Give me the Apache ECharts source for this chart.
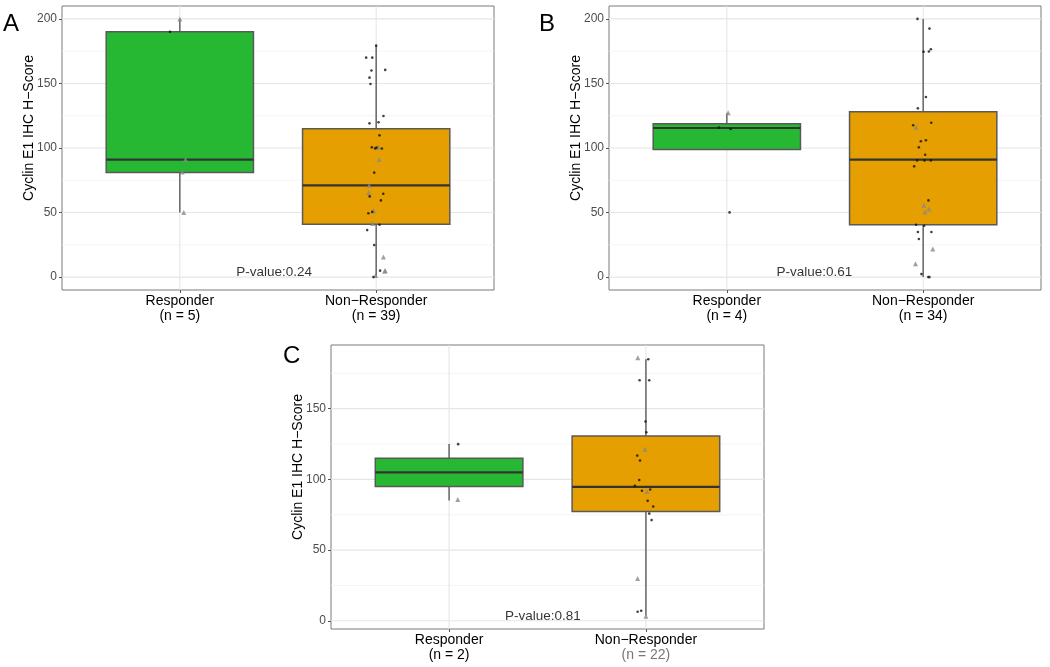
<!DOCTYPE html>
<html>
<head>
<meta charset="utf-8">
<script src="https://cdn.jsdelivr.net/npm/echarts@6/dist/echarts.min.js"></script>
<style>html,body{margin:0;padding:0;background:#fff}#c{width:1050px;height:667px}</style>
</head>
<body>
<div id="c"></div>
<script>
// ---------- DATA ----------
const categories = ['Responder', 'Non\u2212Responder'];
const panelLetters = ['A', 'B', 'C'];
const yTitle = 'Cyclin E1 IHC H\u2212Score';
const nA = [5, 39];
const nB = [4, 34];
const nC = [2, 22];
const pValues = ['0.24', '0.61', '0.81'];
const yTicksAB = [0, 50, 100, 150, 200];
const yTicksC = [0, 50, 100, 150];
const yMinorAB = [25, 75, 125, 175];
const yMinorC = [25, 75, 125, 175];

// box stats: [category position, lower whisker, Q1, median, Q3, upper whisker]
const boxA = [[1, 50, 81, 91, 190, 200], [2, 0, 41, 71, 115, 179.3]];
const boxB = [[1, 98.75, 98.75, 115.5, 118.75, 127], [2, 0, 40.5, 91, 128, 200]];
const boxC = [[1, 85, 95, 105, 115, 125], [2, 3.5, 77.3, 94.7, 130.7, 185]];

// jittered points [x, H-score]
const dotsA = [[0.95, 190],
  [2.0, 179.3], [1.949, 170], [1.98, 170], [2.046, 160.5], [1.976, 160], [1.966, 154.5], [1.971, 149.6],
  [2.037, 124.8], [1.966, 119.1], [2.012, 119.9], [2.017, 109.8], [1.978, 100.5], [1.995, 99.7],
  [2.002, 100.3], [2.029, 99.6], [1.99, 80.9], [2.036, 64.6], [1.967, 62.5], [2.024, 59.4],
  [1.98, 50.5], [1.96, 49.4], [2.017, 40.6], [1.954, 36.4], [1.99, 24.8], [2.02, 5], [1.986, 0]];
const trisA = [[1.0, 200], [1.029, 91], [1.012, 81.4], [1.02, 50],
  [2.012, 100.5], [2.015, 91], [1.964, 71], [1.962, 65.6], [1.987, 51.4], [1.982, 41.6],
  [2.037, 15.5], [2.046, 5.2], [2.043, 4.6], [1.997, 1.3]];

const dotsB = [[0.96, 115.8], [1.019, 114.7], [1.014, 50.1],
  [1.971, 200], [2.032, 192.5], [2.002, 174.6], [2.029, 174.8], [2.039, 176.5], [2.014, 139.5],
  [1.973, 130.7], [2.041, 119.6], [1.949, 117.6], [1.988, 105.2], [2.014, 106], [1.978, 100.5],
  [2.010, 94.8], [1.969, 90.4], [2.007, 90.4], [2.039, 90.4], [1.954, 85.8], [2.027, 59.4],
  [1.964, 40.5], [2.005, 39.8], [1.973, 34.9], [2.042, 34.9], [1.978, 29.5], [1.991, 2.3],
  [2.026, 0], [2.032, 0]];
const trisB = [[1.007, 127.4],
  [1.964, 116], [2.004, 55.6], [2.029, 52.7], [2.009, 50.4], [2.049, 21.7], [1.961, 10.3]];

const dotsC = [[1.046, 124.9],
  [2.012, 184.9], [1.968, 170.1], [2.017, 170.1], [1.998, 140.9], [2.002, 133.3], [1.956, 116.8],
  [1.970, 113.3], [1.966, 99.6], [1.944, 95.4], [1.980, 91.9], [2.022, 92.8], [2.009, 84.8],
  [2.037, 80.8], [2.017, 75.8], [2.029, 71.2], [1.958, 6.4], [1.976, 7.1]];
const trisC = [[1.044, 85.7],
  [1.959, 185.9], [1.995, 121.3], [2.005, 91.4], [1.958, 29.9], [2.0, 3.3]];

// ---------- CHART ----------
const FONT = 'Liberation Sans, Arial, Helvetica, sans-serif';
const boxColors = ['#27b833', '#e69f00'];
const X0 = 0.4, X1 = 2.6;

const panels = [
  {grid: {left: 62, top: 6, width: 432, height: 284}, ymin: -10, ymax: 210, ticks: yTicksAB, minor: yMinorAB,
   box: boxA, dots: dotsA, tris: trisA, n: nA, p: pValues[0], pPos: [1.48, 4], grayN: false},
  {grid: {left: 609, top: 6, width: 432, height: 284}, ymin: -10, ymax: 210, ticks: yTicksAB, minor: yMinorAB,
   box: boxB, dots: dotsB, tris: trisB, n: nB, p: pValues[1], pPos: [1.446, 4], grayN: false},
  {grid: {left: 331, top: 345, width: 433, height: 284}, ymin: -5.8, ymax: 195, ticks: yTicksC, minor: yMinorC,
   box: boxC, dots: dotsC, tris: trisC, n: nC, p: pValues[2], pPos: [1.476, 3], grayN: true}
];

const option = {
  animation: false,
  backgroundColor: '#fff',
  textStyle: {fontFamily: FONT},
  grid: [], xAxis: [], yAxis: [], series: [],
  graphic: []
};

panels.forEach((pn, i) => {
  option.grid.push(Object.assign({show: true, borderColor: '#7a7a7a', borderWidth: 1, backgroundColor: '#fff'}, pn.grid));
  option.xAxis.push({
    type: 'value', gridIndex: i, min: X0, max: X1, position: 'bottom',
    axisLine: {show: false, onZero: false}, splitLine: {show: false},
    axisTick: {show: true, customValues: [1, 2], length: 3, lineStyle: {color: '#555'}},
    axisLabel: {
      customValues: [1, 2], margin: 4, lineHeight: 15, fontSize: 14, color: '#000', fontFamily: FONT,
      formatter: v => {
        const k = Math.round(v) - 1;
        const style = (pn.grayN && k === 1) ? 'g' : 'b';
        return '{b|' + categories[k] + '}\n{' + style + '|(n = ' + pn.n[k] + ')}';
      },
      rich: {
        b: {fontSize: 14, color: '#000', lineHeight: 15, fontFamily: FONT},
        g: {fontSize: 14, color: '#777', lineHeight: 15, fontFamily: FONT}
      }
    }
  });
  option.yAxis.push({
    type: 'value', gridIndex: i, min: pn.ymin, max: pn.ymax, position: 'left',
    axisLine: {show: false, onZero: false}, splitLine: {show: false},
    axisTick: {show: true, customValues: pn.ticks, length: 3, lineStyle: {color: '#555'}},
    axisLabel: {customValues: pn.ticks, margin: 5, fontSize: 12, color: '#4d4d4d', fontFamily: FONT},
    name: yTitle, nameLocation: 'middle', nameGap: 26, nameRotate: 90, nameMoveOverlap: false,
    nameTextStyle: {fontSize: 14, color: '#000', fontFamily: FONT, padding: [0, 0, 0, 40]}
  });
  // gridlines: [kind, value] kind 0 = major horizontal, 1 = minor horizontal, 2 = vertical
  const gl = [];
  pn.minor.forEach(v => gl.push([1, v]));
  pn.ticks.forEach(v => gl.push([0, v]));
  [1, 2].forEach(v => gl.push([2, v]));
  option.series.push({
    type: 'custom', xAxisIndex: i, yAxisIndex: i, z: 1, silent: true, data: gl,
    renderItem: (params, api) => {
      const kind = api.value(0), v = api.value(1);
      let a, b;
      if (kind < 2) { a = api.coord([X0, v]); b = api.coord([X1, v]); }
      else { a = api.coord([v, pn.ymin]); b = api.coord([v, pn.ymax]); }
      return {type: 'line', shape: {x1: a[0], y1: a[1], x2: b[0], y2: b[1]},
        style: {stroke: kind === 1 ? '#f2f2f2' : '#e6e6e6', lineWidth: kind === 1 ? 0.8 : 1.1}};
    }
  });
  // boxes
  option.series.push({
    type: 'custom', xAxisIndex: i, yAxisIndex: i, z: 3, silent: true, data: pn.box,
    encode: {x: 0, y: [1, 2, 3, 4, 5]},
    renderItem: (params, api) => {
      const x = api.value(0), lo = api.value(1), q1 = api.value(2), md = api.value(3), q3 = api.value(4), hi = api.value(5);
      const h = 0.375;
      const tl = api.coord([x - h, q3]), br = api.coord([x + h, q1]);
      const ml = api.coord([x - h, md]), mr = api.coord([x + h, md]);
      const pHi = api.coord([x, hi]), pQ3 = api.coord([x, q3]), pLo = api.coord([x, lo]), pQ1 = api.coord([x, q1]);
      const wStyle = {stroke: '#666', lineWidth: 1.5};
      return {type: 'group', children: [
        {type: 'line', shape: {x1: pHi[0], y1: pHi[1], x2: pQ3[0], y2: pQ3[1]}, style: wStyle},
        {type: 'line', shape: {x1: pLo[0], y1: pLo[1], x2: pQ1[0], y2: pQ1[1]}, style: wStyle},
        {type: 'rect', shape: {x: tl[0], y: tl[1], width: br[0] - tl[0], height: br[1] - tl[1]},
          style: {fill: boxColors[params.dataIndex], stroke: '#595959', lineWidth: 1.5}},
        {type: 'line', shape: {x1: ml[0], y1: ml[1], x2: mr[0], y2: mr[1]}, style: {stroke: '#333', lineWidth: 2.2}}
      ]};
    }
  });
  option.series.push({
    type: 'scatter', xAxisIndex: i, yAxisIndex: i, z: 5, silent: true, data: pn.tris,
    symbol: 'triangle', symbolSize: 5, itemStyle: {color: '#8a8a8a'}
  });
  option.series.push({
    type: 'scatter', xAxisIndex: i, yAxisIndex: i, z: 6, silent: true, data: pn.dots,
    symbol: 'circle', symbolSize: 2.6, itemStyle: {color: '#111'}
  });
  option.series.push({
    type: 'scatter', xAxisIndex: i, yAxisIndex: i, z: 7, silent: true, data: [pn.pPos],
    symbolSize: 1, itemStyle: {color: 'rgba(0,0,0,0)'},
    label: {show: true, position: 'inside', formatter: 'P-value:' + pn.p, fontSize: 13.5, color: '#000',
      textBorderWidth: 0, fontFamily: FONT}
  });
});

const letterPos = [[3, 25], [539, 25], [283, 357]];
panelLetters.forEach((t, i) => {
  option.graphic.push({type: 'text', left: letterPos[i][0], top: letterPos[i][1] - 13,
    style: {text: t, fontSize: 24, fill: '#000', fontFamily: FONT}});
});

const chart = echarts.init(document.getElementById('c'), null, {renderer: 'canvas'});
chart.setOption(option);
</script>
</body>
</html>
